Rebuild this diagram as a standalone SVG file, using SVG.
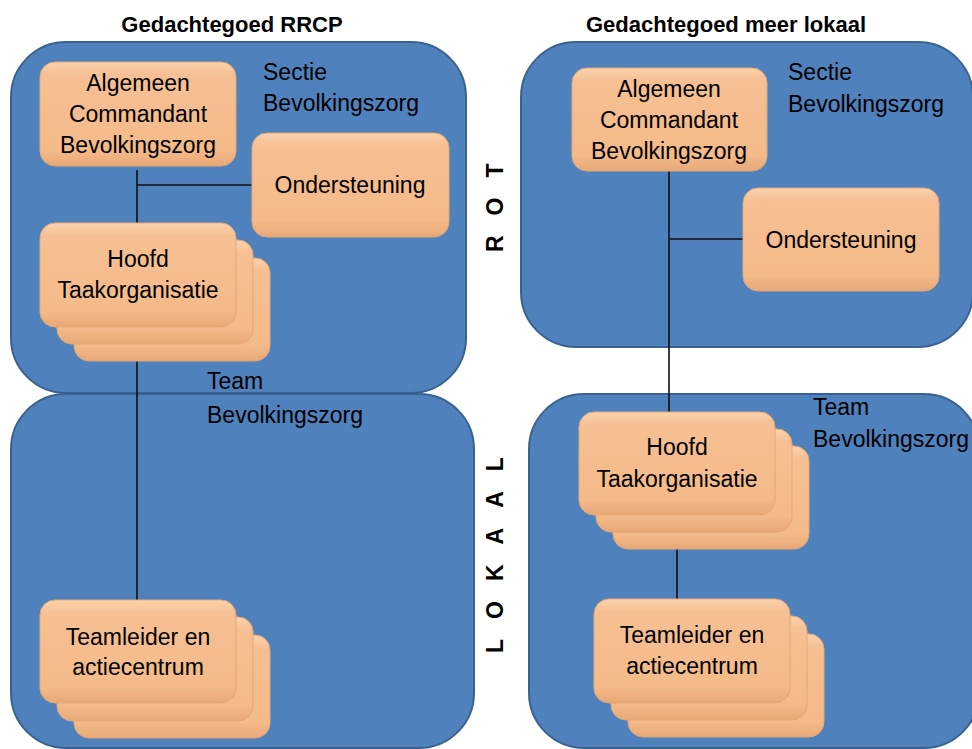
<svg xmlns="http://www.w3.org/2000/svg" width="972" height="749" viewBox="0 0 972 749">
<defs>
<linearGradient id="peach" x1="0" y1="0" x2="0" y2="1">
<stop offset="0" stop-color="#FBD3AE"/>
<stop offset="0.12" stop-color="#F6C094"/>
<stop offset="0.85" stop-color="#F4BA89"/>
<stop offset="1" stop-color="#E8A876"/>
</linearGradient>
<style>
.panel{fill:#4F81BD;stroke:#3A6290;stroke-width:2}
.box{fill:url(#peach);stroke:#E3A775;stroke-width:1}
.t{font-family:"Liberation Sans",Arial,sans-serif;font-size:23px;fill:#000}
.c{text-anchor:middle}
.title{font-family:"Liberation Sans",Arial,sans-serif;font-size:22px;font-weight:bold;fill:#000;text-anchor:middle}
.side{font-family:"Liberation Sans",Arial,sans-serif;font-size:23px;font-weight:bold;fill:#000;letter-spacing:20px}
.conn{stroke:#111;stroke-width:1.6;fill:none}
</style>
</defs>
<rect width="972" height="749" fill="#fff"/>

<g id="titles">
<text class="title" x="232" y="32">Gedachtegoed RRCP</text>
<text class="title" x="726" y="32">Gedachtegoed meer lokaal</text>
</g>

<g id="panels">
<g id="panel-left-top"><rect class="panel" x="11" y="42" width="455" height="351" rx="55"/></g>
<g id="panel-left-bottom"><rect class="panel" x="11" y="394" width="463" height="354" rx="55"/></g>
<g id="panel-right-top"><rect class="panel" x="521" y="42" width="452" height="305" rx="55"/></g>
<g id="panel-right-bottom"><rect class="panel" x="529" y="394" width="450" height="354" rx="55"/></g>
</g>

<g id="side-labels">
<text class="side" transform="translate(503,252) rotate(-90)">ROT</text>
<text class="side" transform="translate(503,653) rotate(-90)">LOKAAL</text>
</g>

<g id="panel-labels">
<text class="t" x="263" y="80">Sectie</text>
<text class="t" x="263" y="111">Bevolkingszorg</text>
<text class="t" x="207" y="389">Team</text>
<text class="t" x="207" y="423">Bevolkingszorg</text>
<text class="t" x="788" y="80">Sectie</text>
<text class="t" x="788" y="112">Bevolkingszorg</text>
<text class="t" x="813" y="415">Team</text>
<text class="t" x="813" y="447">Bevolkingszorg</text>
</g>

<g id="connectors">
<path class="conn" d="M137,170 V223 M137,185 H252 M137,361 V600"/>
<path class="conn" d="M669,171 V412 M669,239 H743 M677,515 V599"/>
</g>

<g id="l-algemeen">
<rect class="box" x="40" y="62" width="196" height="104" rx="15"/>
<text class="t c" x="138" y="91">Algemeen</text>
<text class="t c" x="138" y="122">Commandant</text>
<text class="t c" x="138" y="153">Bevolkingszorg</text>
</g>
<g id="l-ondersteuning">
<rect class="box" x="252" y="133" width="197" height="104" rx="15"/>
<text class="t c" x="350" y="193">Ondersteuning</text>
</g>
<g id="l-hoofd">
<rect class="box" x="74" y="258" width="196" height="103" rx="15"/>
<rect class="box" x="57" y="240" width="196" height="104" rx="15"/>
<rect class="box" x="40" y="223" width="196" height="104" rx="15"/>
<text class="t c" x="138" y="267">Hoofd</text>
<text class="t c" x="138" y="298">Taakorganisatie</text>
</g>
<g id="l-teamleider">
<rect class="box" x="74" y="635" width="196" height="103" rx="15"/>
<rect class="box" x="57" y="617" width="196" height="104" rx="15"/>
<rect class="box" x="40" y="600" width="196" height="103" rx="15"/>
<text class="t c" x="138" y="645">Teamleider en</text>
<text class="t c" x="138" y="675">actiecentrum</text>
</g>

<g id="r-algemeen">
<rect class="box" x="572" y="68" width="195" height="103" rx="15"/>
<text class="t c" x="669" y="97">Algemeen</text>
<text class="t c" x="669" y="128">Commandant</text>
<text class="t c" x="669" y="159">Bevolkingszorg</text>
</g>
<g id="r-ondersteuning">
<rect class="box" x="743" y="188" width="196" height="103" rx="15"/>
<text class="t c" x="841" y="248">Ondersteuning</text>
</g>
<g id="r-hoofd">
<rect class="box" x="613" y="446" width="196" height="103" rx="15"/>
<rect class="box" x="596" y="429" width="196" height="103" rx="15"/>
<rect class="box" x="579" y="412" width="196" height="103" rx="15"/>
<text class="t c" x="677" y="455">Hoofd</text>
<text class="t c" x="677" y="487">Taakorganisatie</text>
</g>
<g id="r-teamleider">
<rect class="box" x="628" y="634" width="196" height="103" rx="15"/>
<rect class="box" x="611" y="616" width="196" height="104" rx="15"/>
<rect class="box" x="594" y="599" width="196" height="104" rx="15"/>
<text class="t c" x="692" y="643">Teamleider en</text>
<text class="t c" x="692" y="674">actiecentrum</text>
</g>
</svg>
